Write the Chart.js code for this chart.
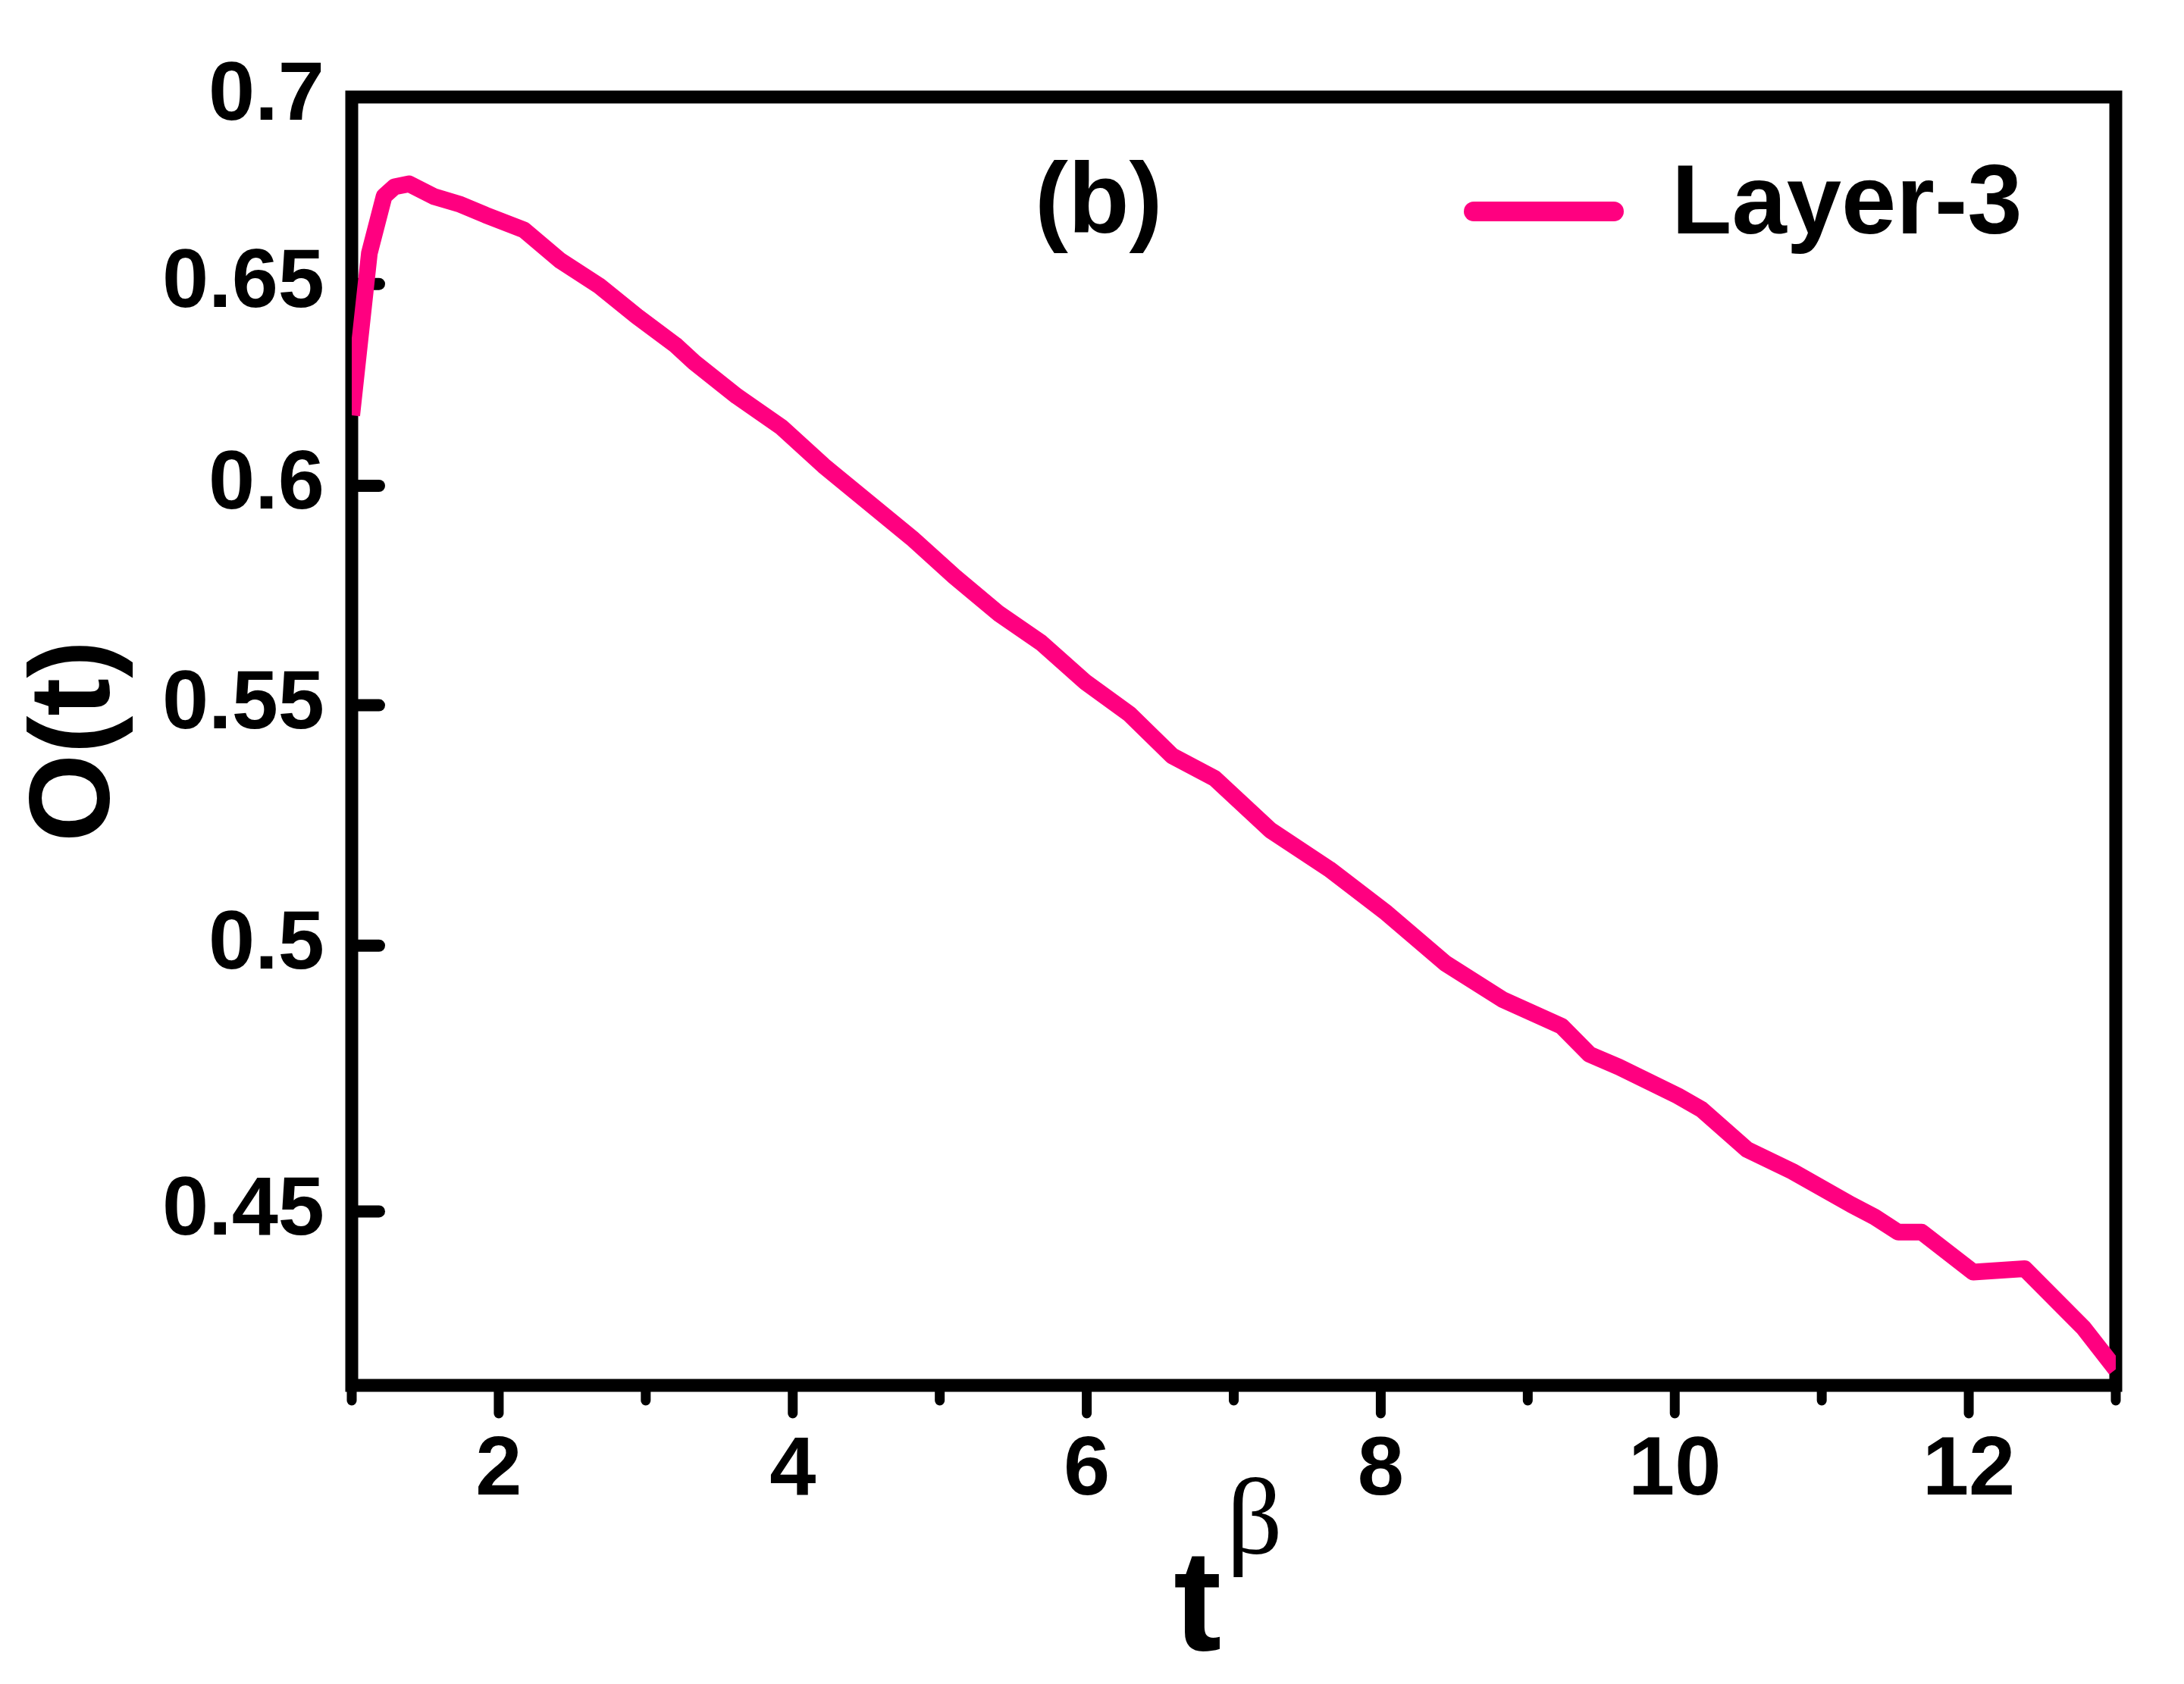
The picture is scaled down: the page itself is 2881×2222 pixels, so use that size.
<!DOCTYPE html>
<html>
<head>
<meta charset="utf-8">
<script src="https://cdn.jsdelivr.net/npm/chart.js@4.4.1/dist/chart.umd.min.js"></script>
<style>
  html, body { margin: 0; padding: 0; background: #fff; }
</style>
</head>
<body>
<canvas id="chart" width="2881" height="2222"></canvas>
<script>
// t^beta values and O(t)
const tValues = [1.00, 1.12, 1.22, 1.29, 1.39, 1.56, 1.74, 1.91, 2.17, 2.42, 2.68, 2.94, 3.20, 3.33, 3.62, 3.92,
    4.21, 4.51, 4.81, 5.10, 5.40, 5.69, 5.99, 6.29, 6.58, 6.87, 7.25, 7.65, 8.04, 8.44, 8.83,
    9.23, 9.42, 9.62, 10.02, 10.18, 10.49, 10.80, 11.20, 11.36, 11.52, 11.68, 12.03, 12.38, 12.78, 13.00];
const oValues = [0.617, 0.658, 0.673, 0.6755, 0.6763, 0.6729, 0.6708, 0.668, 0.6641, 0.656, 0.6496, 0.6417, 0.6345, 0.6301, 0.6217, 0.6142,
    0.6048, 0.5962, 0.5877, 0.5788, 0.5704, 0.5638, 0.5551, 0.5481, 0.5391, 0.5343, 0.5234, 0.5154, 0.5065, 0.4965, 0.4894,
    0.4843, 0.4789, 0.4765, 0.4711, 0.4686, 0.4612, 0.4572, 0.4512, 0.4490, 0.4463, 0.4463, 0.4393, 0.4399, 0.4297, 0.4227];

const xTickValues = [2, 4, 6, 8, 10, 12];
const xMinorValues = [1, 3, 5, 7, 9, 11, 13];
const yTickValues = [0.45, 0.5, 0.55, 0.6, 0.65, 0.7];

const seriesLabel = 'Layer-3';
const panelLabel = '(b)';
const lineColor = '#FF0080';
const fontFamily = '"Liberation Sans", Arial, sans-serif';

function strokeLine(ctx, x1, y1, x2, y2) {
    ctx.beginPath();
    ctx.moveTo(x1, y1);
    ctx.lineTo(x2, y2);
    ctx.stroke();
}

// box + ticks go under the curve, like in the original
const frameTicks = {
    id: 'frameTicks',
    beforeDatasetsDraw(chart) {
        const {ctx, chartArea: a, scales: {x, y}} = chart;
        ctx.save();
        ctx.strokeStyle = '#000';
        ctx.lineWidth = 17;
        ctx.lineJoin = 'miter';
        ctx.strokeRect(a.left, a.top, a.right - a.left, a.bottom - a.top);

        ctx.lineCap = 'round';
        ctx.lineWidth = 13;
        const base = a.bottom + 8;
        xTickValues.forEach(v => {
            const px = x.getPixelForValue(v);
            strokeLine(ctx, px, base, px, base + 29);
        });
        xMinorValues.forEach(v => {
            const px = x.getPixelForValue(v);
            strokeLine(ctx, px, base, px, base + 12);
        });

        ctx.lineWidth = 16;
        yTickValues.forEach(v => {
            const py = y.getPixelForValue(v);
            strokeLine(ctx, a.left + 8, py, a.left + 36, py);
        });
        ctx.restore();
    }
};

// legend, panel label and the t^beta axis title
const annotations = {
    id: 'annotations',
    afterDraw(chart) {
        const {ctx} = chart;
        ctx.save();
        ctx.fillStyle = '#000';
        ctx.textAlign = 'left';
        ctx.textBaseline = 'alphabetic';

        ctx.font = 'bold 132px ' + fontFamily;
        ctx.fillText(panelLabel, 1365, 307);

        ctx.strokeStyle = chart.data.datasets[0].borderColor;
        ctx.lineWidth = 26;
        ctx.lineCap = 'round';
        strokeLine(ctx, 1944, 279, 2129, 279);

        ctx.font = 'bold 130px ' + fontFamily;
        ctx.fillText(chart.data.datasets[0].label, 2205, 308);

        ctx.font = 'bold 190px ' + fontFamily;
        ctx.fillText('t', 1548, 2177);
        ctx.font = '145px "Liberation Serif", "DejaVu Serif", serif';
        ctx.fillText('\u03B2', 1618, 2050);
        ctx.restore();
    }
};

const points = tValues.map((t, i) => ({x: t, y: oValues[i]}));

const ctx = document.getElementById('chart').getContext('2d');
const chart = new Chart(ctx, {
    type: 'line',
    data: {
        datasets: [
            {
                label: seriesLabel,
                data: points,
                borderColor: lineColor,
                borderWidth: 22,
                borderJoinStyle: 'round',
                pointRadius: 0,
                tension: 0,
                fill: false,
            }
        ]
    },
    plugins: [frameTicks, annotations],
    options: {
        responsive: false,
        animation: false,
        layout: {
            padding: {top: 128, right: 90, left: 0, bottom: 0}
        },
        plugins: {
            legend: {display: false},
            tooltip: {enabled: false},
        },
        scales: {
            x: {
                type: 'linear',
                min: 1,
                max: 13,
                grid: {display: false, drawTicks: false},
                border: {display: false},
                afterBuildTicks: (scale) => {
                    scale.ticks = xTickValues.map(v => ({value: v}));
                },
                afterFit: (scale) => {
                    scale.height = 394;
                },
                ticks: {
                    color: '#000',
                    padding: 48,
                    maxRotation: 0,
                    font: {family: fontFamily, size: 110, weight: 'bold'},
                },
            },
            y: {
                type: 'logarithmic',
                min: 0.42,
                max: 0.7,
                grid: {display: false, drawTicks: false},
                border: {display: false},
                afterBuildTicks: (scale) => {
                    scale.ticks = yTickValues.map(v => ({value: v}));
                },
                afterFit: (scale) => {
                    scale.width = 464;
                },
                ticks: {
                    color: '#000',
                    padding: 36,
                    font: {family: fontFamily, size: 110, weight: 'bold'},
                    callback: (value) => String(value),
                },
                title: {
                    display: true,
                    text: 'O(t)',
                    color: '#000',
                    font: {family: fontFamily, size: 150, weight: 'bold'},
                    padding: {top: 13, bottom: 0},
                },
            }
        }
    }
});
</script>
</body>
</html>
